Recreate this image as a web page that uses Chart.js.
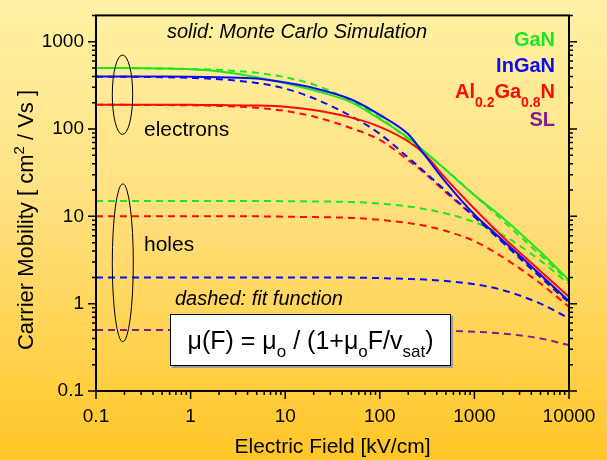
<!DOCTYPE html>
<html>
<head>
<meta charset="utf-8">
<title>Carrier Mobility vs Electric Field</title>
<script src="https://cdn.jsdelivr.net/npm/chart.js@4.4.1/dist/chart.umd.min.js"></script>
<style>
  html, body { margin: 0; padding: 0; }
  body {
    width: 607px; height: 460px; overflow: hidden;
    background: linear-gradient(to bottom, #fff2a6 0%, #ffe07f 45%, #ffd048 80%, #ffc626 100%);
  }
  canvas { display: block; }
</style>
</head>
<body>
<canvas id="chart" width="607" height="460"></canvas>
<script>
// electric field points (kV/cm)
const fieldKV = [0.1, 0.2, 0.5, 1, 2, 5, 10, 20, 50, 100, 200, 300, 500, 1000, 2000, 5000, 10000];

// solid: Monte Carlo simulation (electrons)
const ganMC   = [500, 499, 493, 482, 455, 392, 335, 278, 202, 130, 79, 55, 34, 17.5, 9.6, 3.9, 1.85];
const inganMC = [400, 400, 399, 397, 392, 380, 340, 295, 218, 145, 87, 50, 24.5, 10.5, 5.3, 2.15, 1.07];
const alganMC = [190, 190, 190, 189, 188, 186, 180, 165, 135, 106, 72, 51, 27, 12.2, 5.8, 2.35, 1.2];

// dashed: fit function (electrons and holes)
const ganFitE   = [500, 499, 493, 487, 474, 440, 392, 323, 210, 135, 76, 54, 34, 17.5, 8.9, 3.6, 1.8];
const inganFitE = [398, 397, 392, 385, 372, 337, 290, 225, 140, 88, 47, 32, 19.5, 9.9, 5.0, 2.0, 1.03];
const alganFitE = [190, 189, 188, 187, 184, 175, 161, 139, 102, 75, 44, 31, 18.8, 9.9, 5.1, 2.1, 1.05];
const ganFitH   = [15, 15, 15, 15, 15, 15, 14.9, 14.8, 14.6, 14.0, 13.0, 12.1, 10.8, 8.6, 6.1, 3.1, 1.68];
const alganFitH = [10, 10, 10, 10, 10, 10, 9.9, 9.8, 9.6, 9.1, 8.4, 7.8, 6.8, 5.2, 3.4, 1.7, 0.92];
const inganFitH = [2, 2, 2, 2, 2, 2, 2, 2, 1.99, 1.96, 1.92, 1.89, 1.82, 1.67, 1.43, 1.0, 0.68];
const slFitH    = [0.5, 0.5, 0.5, 0.5, 0.5, 0.5, 0.5, 0.5, 0.5, 0.497, 0.495, 0.493, 0.488, 0.477, 0.455, 0.40, 0.335];

// labelled ticks
const ticksX = [0.1, 1, 10, 100, 1000, 10000];
const ticksY = [0.1, 1, 10, 100, 1000];

const GREEN = '#1ee61e';
const BLUE = '#0a0af5';
const RED = '#ff0a0a';
const PURPLE = '#861a8c';
const FF = '"Liberation Sans", Arial, Helvetica, sans-serif';

Chart.defaults.font.family = FF;
Chart.defaults.color = '#000';

function pts(vals) {
  return fieldKV.map((f, i) => ({ x: f, y: vals[i] }));
}

function line(vals, color, dashed) {
  return {
    data: pts(vals),
    borderColor: color,
    borderWidth: 2,
    borderDash: dashed ? [7, 5] : [],
    pointRadius: 0,
    fill: false,
    cubicInterpolationMode: 'monotone'
  };
}

// first datasets are drawn on top
const datasets = [
  line(inganMC, BLUE, false),
  line(alganMC, RED, false),
  line(ganMC, GREEN, false),
  line(ganFitE, GREEN, true),
  line(inganFitE, BLUE, true),
  line(alganFitE, RED, true),
  line(ganFitH, GREEN, true),
  line(alganFitH, RED, true),
  line(inganFitH, BLUE, true),
  line(slFitH, PURPLE, true)
];

// draws text made of pieces with own font and vertical shift
function rich(ctx, parts, x, y, align) {
  let w = 0;
  parts.forEach(p => { ctx.font = p[1]; w += ctx.measureText(p[0]).width; });
  let cx = align === 'right' ? x - w : align === 'center' ? x - w / 2 : x;
  parts.forEach(p => {
    ctx.font = p[1];
    ctx.fillText(p[0], cx, y + (p[2] || 0));
    cx += ctx.measureText(p[0]).width;
  });
}

function powerOfTen(v) {
  const l = Math.log10(v);
  return Math.abs(l - Math.round(l)) < 1e-9;
}

const deco = {
  id: 'deco',
  afterDatasetsDraw(chart) {
    const { ctx, chartArea: a, scales: { x, y } } = chart;
    ctx.save();

    // frame
    ctx.strokeStyle = '#000';
    ctx.lineWidth = 2;
    ctx.strokeRect(a.left, a.top, a.right - a.left, a.bottom - a.top);

    // tick marks, long on decades
    ctx.lineWidth = 1.5;
    ctx.beginPath();
    for (let e = -1; e <= 4; e++) {
      for (let m = 1; m <= 9; m++) {
        const v = m * Math.pow(10, e);
        const len = m === 1 ? 8 : 4;
        if (v >= x.min * 0.999 && v <= x.max * 1.001) {
          const px = x.getPixelForValue(v);
          ctx.moveTo(px, a.bottom);
          ctx.lineTo(px, a.bottom + len);
        }
        if (v >= y.min * 0.999 && v <= y.max * 1.001) {
          const py = y.getPixelForValue(v);
          ctx.moveTo(a.left, py);
          ctx.lineTo(a.left - len, py);
          ctx.moveTo(a.right, py);
          ctx.lineTo(a.right + len, py);
        }
      }
    }
    ctx.stroke();

    // y axis title
    ctx.fillStyle = '#000';
    ctx.textBaseline = 'alphabetic';
    ctx.save();
    ctx.translate(33, 220);
    ctx.rotate(-Math.PI / 2);
    rich(ctx, [
      ['Carrier Mobility [ cm', '22px ' + FF],
      ['2', '15px ' + FF, -9],
      [' / Vs ]', '22px ' + FF]
    ], 0, 0, 'center');
    ctx.restore();

    // notes inside the plot
    ctx.font = 'italic 20px ' + FF;
    ctx.textAlign = 'left';
    ctx.fillText('solid: Monte Carlo Simulation', 167, 38);
    ctx.fillText('dashed: fit function', 175, 305);
    ctx.font = '21px ' + FF;
    ctx.fillText('electrons', 144, 136);
    ctx.fillText('holes', 144, 251);

    // ellipses around the curve groups
    ctx.lineWidth = 1;
    ctx.beginPath();
    ctx.ellipse(122.5, 94.7, 10.2, 39.7, 0, 0, Math.PI * 2);
    ctx.stroke();
    ctx.beginPath();
    ctx.ellipse(122.8, 262.8, 10.5, 78.9, 0, 0, Math.PI * 2);
    ctx.stroke();

    // material legend
    const B20 = 'bold 20px ' + FF, B14 = 'bold 14px ' + FF;
    ctx.fillStyle = GREEN;
    rich(ctx, [['GaN', B20]], 555, 46, 'right');
    ctx.fillStyle = BLUE;
    rich(ctx, [['InGaN', B20]], 555, 72, 'right');
    ctx.fillStyle = RED;
    rich(ctx, [['Al', B20], ['0.2', B14, 9], ['Ga', B20], ['0.8', B14, 9], ['N', B20]], 555, 98, 'right');
    ctx.fillStyle = PURPLE;
    rich(ctx, [['SL', B20]], 555, 126, 'right');

    // formula box
    ctx.fillStyle = '#9a9a9a';
    ctx.fillRect(172, 316, 281, 52);
    ctx.fillStyle = '#fff';
    ctx.fillRect(170, 314, 281, 52);
    ctx.strokeStyle = '#000';
    ctx.lineWidth = 1;
    ctx.strokeRect(170.5, 314.5, 280, 51);
    ctx.fillStyle = '#000';
    const M = '25px ' + FF, S = '17px ' + FF;
    rich(ctx, [
      ['\u03bc(F) = \u03bc', M], ['o', S, 8], [' / (1+\u03bc', M], ['o', S, 8],
      ['F/v', M], ['sat', S, 8], [')', M]
    ], 310.5, 349, 'center');

    ctx.restore();
  }
};

new Chart(document.getElementById('chart'), {
  type: 'line',
  data: { datasets },
  options: {
    responsive: false,
    animation: false,
    layout: { padding: { left: 0, right: 38, top: 10, bottom: 0 } },
    plugins: { legend: { display: false }, tooltip: { enabled: false } },
    scales: {
      x: {
        type: 'logarithmic',
        min: 0.1,
        max: 10000,
        afterBuildTicks: s => { s.ticks = ticksX.map(v => ({ value: v })); },
        afterFit: s => { s.height = 69; },
        ticks: {
          autoSkip: false,
          maxRotation: 0,
          padding: 6,
          font: { size: 19 },
          callback: v => (powerOfTen(v) ? String(v) : '')
        },
        grid: { drawOnChartArea: false, tickLength: 8, tickColor: 'rgba(0,0,0,0)' },
        border: { display: false },
        title: {
          display: true,
          text: 'Electric Field [kV/cm]',
          font: { size: 21 },
          padding: { top: 0, bottom: 0 }
        }
      },
      y: {
        type: 'logarithmic',
        min: 0.1,
        max: 2000,
        afterBuildTicks: s => { s.ticks = ticksY.map(v => ({ value: v })); },
        afterFit: s => { s.width = 96; },
        ticks: {
          autoSkip: false,
          padding: 4,
          font: { size: 19 },
          callback: v => (powerOfTen(v) ? String(v) : '')
        },
        grid: { drawOnChartArea: false, tickLength: 8, tickColor: 'rgba(0,0,0,0)' },
        border: { display: false }
      }
    }
  },
  plugins: [deco]
});
</script>
</body>
</html>
